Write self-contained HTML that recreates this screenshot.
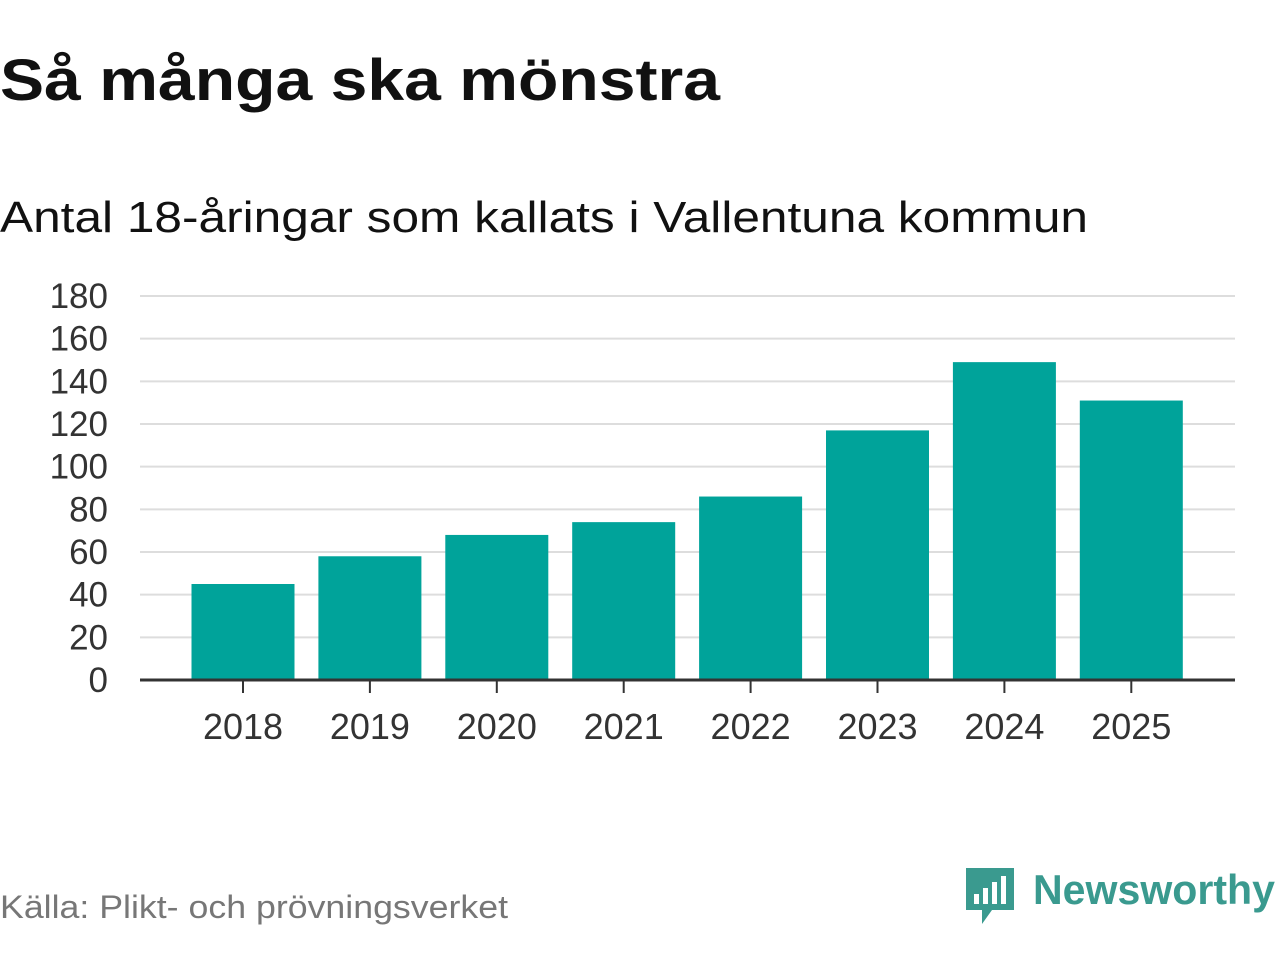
<!DOCTYPE html>
<html><head><meta charset="utf-8"><style>
body{margin:0;width:1280px;height:960px;background:#fff;font-family:"Liberation Sans","DejaVu Sans",sans-serif;overflow:hidden}
</style></head><body>
<svg width="1280" height="960">
<text x="0" y="100" font-size="58" font-weight="bold" fill="#111" textLength="720" lengthAdjust="spacingAndGlyphs">Så många ska mönstra</text>
<text x="0" y="232" font-size="44" fill="#111" textLength="1088" lengthAdjust="spacingAndGlyphs">Antal 18-åringar som kallats i Vallentuna kommun</text>
<g id="grid"></g>
<g id="bars"></g>
<g id="axes"></g>
<text x="0" y="918" font-size="32" fill="#777" textLength="508" lengthAdjust="spacingAndGlyphs">Källa: Plikt- och prövningsverket</text>
<g>
<path d="M966 868 h48 v42 h-22 l-10 14 v-14 h-16 z" fill="#3a9a8f"/>
<rect x="974" y="894" width="5" height="10" fill="#fff"/><rect x="983" y="888" width="5" height="16" fill="#fff"/><rect x="992" y="882" width="5" height="22" fill="#fff"/><rect x="1001" y="876" width="5" height="28" fill="#fff"/>
<text x="1033" y="904" font-size="42" font-weight="bold" fill="#3a9a8f" textLength="242" lengthAdjust="spacingAndGlyphs">Newsworthy</text>
</g>
</svg>
<script>
const years=["2018","2019","2020","2021","2022","2023","2024","2025"];
const counts=[45,58,68,74,86,117,149,131];
const yTicks=[0,20,40,60,80,100,120,140,160,180];
const ns="http://www.w3.org/2000/svg";
const y0=680,yMax=180,ph=384,x0=140,x1=1235,step=126.9,c0=243,bw=103;
const ys=v=>y0-v/yMax*ph, xs=i=>c0+i*step;
function mk(t,a,p){const e=document.createElementNS(ns,t);for(const k in a)e.setAttribute(k,a[k]);document.getElementById(p).appendChild(e);return e;}
yTicks.forEach(v=>{
 if(v>0){const l=mk('line',{x1:x0,x2:x1,y1:ys(v),y2:ys(v),stroke:'#ddd','stroke-width':2},'grid');
 
 }
 const t=mk('text',{x:108,y:ys(v)+12,'font-size':35,fill:'#333','text-anchor':'end'},'axes');t.textContent=v;
 
 
});
counts.forEach((v,i)=>{
 const r=mk('rect',{x:xs(i)-bw/2,y:ys(v),width:bw,height:y0-ys(v),fill:'#00a39a'},'bars');
 
 
 mk('line',{x1:xs(i),x2:xs(i),y1:y0,y2:y0+13,stroke:'#333','stroke-width':2},'axes');
 const t=mk('text',{x:xs(i),y:739,'font-size':36,fill:'#333','text-anchor':'middle'},'axes');t.textContent=years[i];
 
 
});
const a=mk('line',{x1:x0,x2:x1,y1:y0,y2:y0,stroke:'#333','stroke-width':3},'axes');


</script>
</body></html>
